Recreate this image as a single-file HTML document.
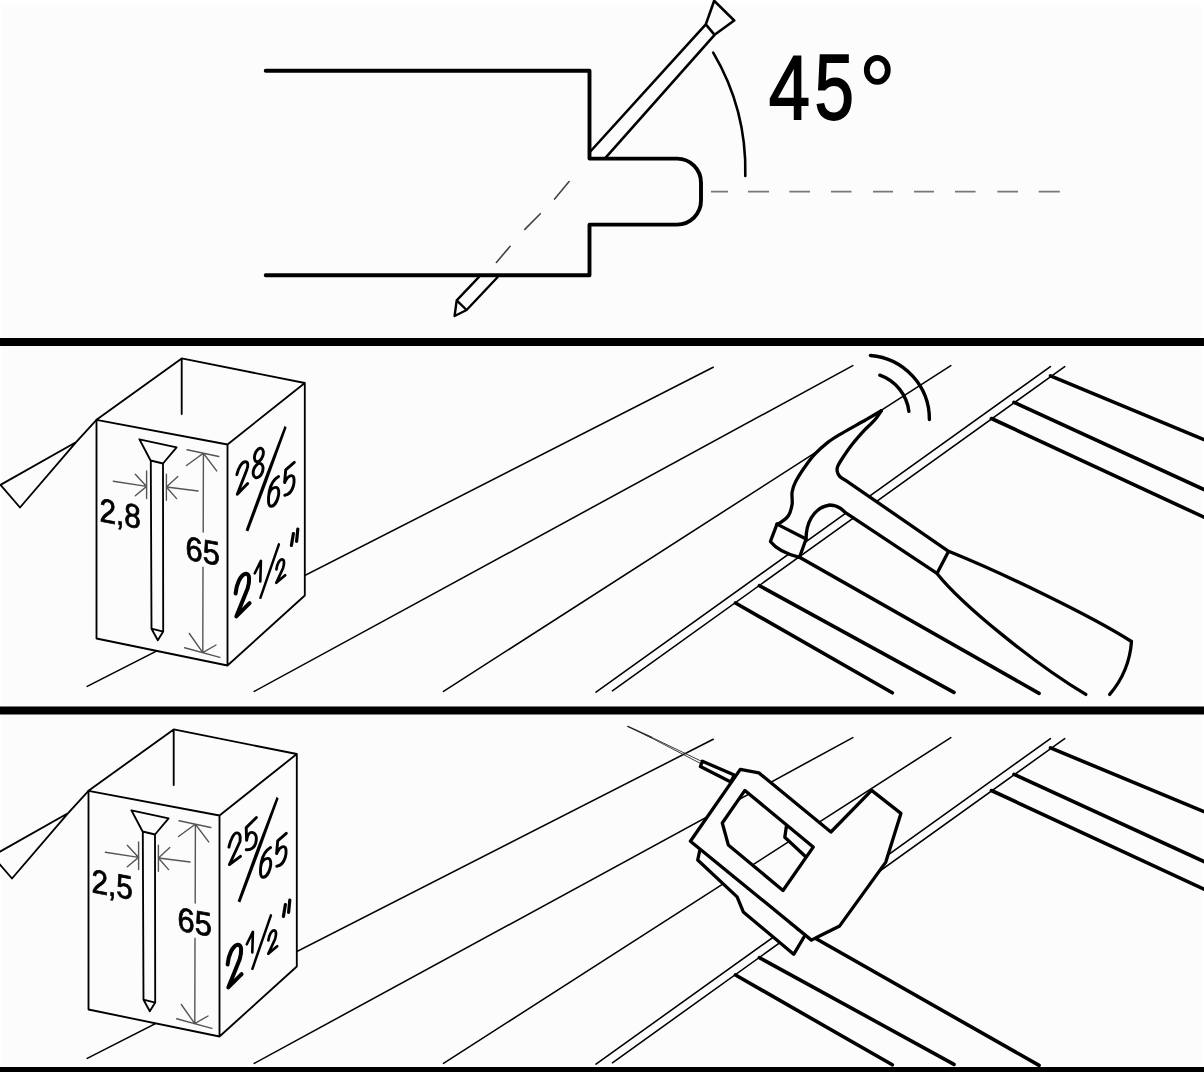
<!DOCTYPE html>
<html><head><meta charset="utf-8"><title>Nailing instructions</title>
<style>
html,body{margin:0;padding:0;background:#fcfcfc;}
body{width:1204px;height:1072px;overflow:hidden;}
svg{display:block;filter:grayscale(1);font-family:"Liberation Sans",sans-serif;}
.k{fill:none;stroke:#000;stroke-linecap:round;stroke-linejoin:round;}
.t1{stroke-width:1.55;}
.t2{stroke-width:1.85;}
.t3{stroke-width:3.3;}
.t4{stroke-width:3.6;}
.g{fill:none;stroke:#555;stroke-width:1.4;stroke-linecap:round;}
.w{fill:#fcfcfc;stroke:none;}
text{fill:#000;stroke:#000;stroke-width:0.8;}
</style></head>
<body>
<svg width="1204" height="1072" viewBox="0 0 1204 1072">
<defs>
  <!-- perspective board lines (middle panel coordinates) -->
  <g id="boards">
    <path class="k t1" d="M87.2,686.4 L713.2,367.3 M254.2,691.4 L852.8,365.6 M443.5,691.4 L950.8,365.6 M596,692.1 L1050.4,366.6 M612.4,690.8 L1064.7,366.6"/>
    <path class="k t4" d="M1050.5,375.9 L1204,439.6 M1014,402.3 L1204,489.6 M991.4,418.5 L1204,517.2 M735.5,603 L892.3,692.8 M759.4,585.7 L954,692.3 M799.5,557.3 L1039.1,693.4"/>
  </g>
  <!-- box with nail (middle panel coordinates) -->
  <g id="box">
    <path class="k t2" d="M0.5,484.9 L75.9,442.3 L20,507.5 Z M75.9,442.3 L96.5,419.8"/>
    <path class="w" d="M96.5,419.8 L181.7,358.4 L304.8,383 L304.8,595.5 L227.5,665.5 L96.5,638.5 Z"/>
    <path class="k t2" d="M96.5,419.8 L227.5,444.5 L227.5,665.5 L96.5,638.5 Z M227.5,444.5 L304.8,383 L304.8,595.5 L227.5,665.5 M96.5,419.8 L181.7,358.4 L304.8,383 M181.7,358.4 L181.7,414"/>
    <!-- nail -->
    <path class="k t2" d="M139.4,439.3 L176.6,447.4 L163,463.5 L150.6,460.5 Z M150.8,460.5 L151.5,628.7 L157.8,640.2 L163.2,631.6 L163,463.5 M151.5,628.7 L163.2,631.6"/>
    <!-- width dimension -->
    <path class="g" d="M146.6,470.9 V498.6 M166.4,474.2 V500.3 M113.3,481.2 L146.6,486.4 M135.3,474.2 L146.6,486.4 L135.3,495.7 M198.1,491 L166.4,487 M177.8,476.5 L166.4,487 L176.6,498.6"/>
    <!-- height dimension -->
    <path class="g" d="M187.1,449.8 L218.8,456.5 M203.4,453.3 L203.2,532 M203,567.2 L202.8,652.6 M186.5,465.5 L203.4,453.3 L216.7,470.9 M184.6,647.8 L219.9,657.4 M189.3,633.5 L202.8,652.6 L216,645"/>
    <text font-size="33.5" transform="matrix(0.92 0.172 0 1 185.6 559.2)">65</text>
    <!-- right face text -->
    <g class="k" stroke-width="2.9">
      <path d="M268.6,496.5 C268.8,491 272.5,487.2 275.8,487.4 C279.2,487.6 279.3,493 278,497.5 C276.5,503 273.5,506.5 270.8,506.3 C268,506 268,499 269.3,491.5 C270.5,485 273.5,479.5 278.6,476.6"/>
      <path d="M294.3,462.3 L285.7,469.8 L284.6,482.6 C286.5,478.5 289.2,475.5 291.6,475.6 C294.6,475.8 294.6,481.5 293.2,486.5 C291.6,491.8 288.3,494.8 284.8,495.3"/>
    </g>
    <path d="M284.6,425.8 L286.6,427.4 L267.8,479.5 L248.3,531.5 L245.6,530.2 L264.5,478.5 Z" fill="#000"/>
    <g class="k">
      <path stroke-width="4" d="M235.6,593.5 C236.2,585 240.5,574.5 245.8,573.8 C250,573.4 249.8,581 247.6,588.6 L236.3,616.4 L249.6,603.1"/>
      <path stroke-width="2.6" d="M254.8,573.3 L260.9,560.8 L260.3,581.4"/>
      <path stroke-width="2.5" d="M278.9,544.4 L260.4,597.8"/>
      <path stroke-width="2.7" d="M276.4,569.4 C277,564 279.5,559.4 282.2,559.3 C284.6,559.2 284.3,564.5 283,568.2 L276.3,582.8 L285.2,575.3"/>
      <path stroke-width="3.2" d="M293.4,533.6 L291.4,545.4 M297.8,529.2 L296.6,541.4"/>
    </g>
  </g>
</defs>

<rect x="0" y="0" width="1204" height="5" fill="#fff"/>
<rect x="1201.5" y="0" width="3" height="1072" fill="#fff"/>
<rect x="0" y="0" width="2" height="1072" fill="#fff"/>
<!-- ================= TOP PANEL ================= -->
<path class="k" stroke-width="3.9" d="M265.7,70.7 H589.5 V158.6 H677 A24,24 0 0 1 701,182.6 V200.6 A24,24 0 0 1 677,224.6 H589.5 V275.2 H265.7"/>
<!-- nail upper -->
<path class="k" stroke-width="2.6" d="M589.9,152 L705.8,24.4 M604.8,158.6 L714.6,34.8 M705.8,24.4 L714.2,0.8 L734.2,20.5 L714.6,34.8 Z"/>
<!-- dashed centre line -->
<path fill="none" stroke="#444" stroke-width="1.6" stroke-linecap="round" d="M569.1,181.6 L554.6,199.1 M540.3,213.7 L524.8,229.4 M510.1,246.3 L496.4,262.4"/>
<!-- nail tip -->
<path class="k" stroke-width="2.4" d="M478.8,277.2 L456.7,300.3 L454.6,316 L466.6,310 L497.5,277.2 M456.7,300.3 L466.6,310"/>
<!-- 45 deg arc -->
<path class="k" stroke-width="2.6" d="M713.2,52.7 A231,231 0 0 1 745.3,176"/>
<!-- horizontal dashed line -->
<path fill="none" stroke="#777" stroke-width="1.8" d="M711,191.6 H728 M748,191.6 H769 M789.3,191.6 H810 M831,191.6 H851.5 M873,191.6 H893 M914,191.6 H934 M955,191.6 H975.6 M997.3,191.6 H1018 M1038.7,191.6 H1059.8"/>
<!-- 45 text -->
<text font-size="92.7" style="stroke-width:1.8" transform="matrix(0.80 0 0 0.99 768.8 119.2)">4</text>
<text font-size="92.8" style="stroke-width:1.8" transform="matrix(0.765 0 0 0.99 814.6 119.2)">5</text>
<ellipse cx="877.3" cy="69.9" rx="10.5" ry="12" fill="none" stroke="#000" stroke-width="5.8"/>

<!-- separators -->
<rect x="0" y="338" width="1204" height="8" fill="#000"/>
<rect x="0" y="706.5" width="1204" height="8" fill="#000"/>
<rect x="0" y="1067" width="1204" height="5" fill="#000"/>

<!-- ================= MIDDLE PANEL ================= -->
<use href="#boards"/>
<use href="#box"/>
<text font-size="33.4" transform="matrix(0.89 0.1664 0 1 99.4 521.2)">2,8</text>
<g class="k" stroke-width="2.9">
  <path d="M236.8,474.7 C238.5,467.5 242,461.8 245.4,461.8 C248.5,461.8 248.2,466.5 246.7,470 L237.3,494.3 L247.7,483.6"/>
  <ellipse cx="258.9" cy="455" rx="4" ry="7.1" transform="rotate(20 258.9 455)"/>
  <ellipse cx="258.1" cy="470.6" rx="4.5" ry="7.5" transform="rotate(20 258.1 470.6)"/>
</g>

<!-- hammer -->
<g id="hammer">
  <path class="w" d="M881.3,410.8 C878.7,412.3 872.1,416.2 865.5,420.0 C858.9,423.8 848.2,429.5 841.9,433.3 C835.6,437.1 832.1,439.0 827.5,442.6 C822.9,446.2 818.0,450.6 814.1,454.9 C810.2,459.2 807.0,463.9 803.9,468.3 C800.8,472.8 797.7,477.7 795.7,481.6 C793.7,485.5 792.7,488.1 792.1,491.9 C791.5,495.7 792.7,500.3 792.1,504.2 C791.5,508.1 790.5,512.4 788.5,515.5 C786.5,518.6 782.2,521.3 780.3,522.7 C778.4,524.1 777.5,523.9 777.0,524.1 L806.1,539 C806,525 812,508 829.8,505 C836,505 841,508 845.1,512.3 L937,573.4 C962,605 1035,664 1085.8,694.4 L1109.7,694.4 C1122,680 1130,662 1131.5,641.5 C1090,615 1000,572 948.6,551.3 L846,480.6 C845.0,479.9 841.3,478.1 839.8,476.5 C838.3,474.9 837.5,473.0 837.2,471.3 C836.9,469.6 837.0,468.2 837.8,466.2 C838.6,464.1 839.7,462.4 841.9,459.0 C844.1,455.6 847.7,450.1 851.1,445.7 C854.5,441.2 858.5,436.6 862.4,432.3 C866.3,428.0 871.6,423.6 874.7,420.0 C877.9,416.4 880.2,412.3 881.3,410.8 Z"/>
  <path class="k t3" d="M881.3,410.8 C878.7,412.3 872.1,416.2 865.5,420.0 C858.9,423.8 848.2,429.5 841.9,433.3 C835.6,437.1 832.1,439.0 827.5,442.6 C822.9,446.2 818.0,450.6 814.1,454.9 C810.2,459.2 807.0,463.9 803.9,468.3 C800.8,472.8 797.7,477.7 795.7,481.6 C793.7,485.5 792.7,488.1 792.1,491.9 C791.5,495.7 792.7,500.3 792.1,504.2 C791.5,508.1 790.5,512.4 788.5,515.5 C786.5,518.6 782.2,521.3 780.3,522.7 C778.4,524.1 777.5,523.9 777.0,524.1"/>
  <path class="k t3" d="M806.1,539 C806,525 812,508 829.8,505 C836,505 841,508 845.1,512.3 L937,573.4 C962,605 1035,664 1085.8,694.4"/>
  <path class="k t3" d="M1109.7,694.4 C1122,680 1130,662 1131.5,641.5 C1090,615 1000,572 948.6,551.3 L846,480.6 C845.0,479.9 841.3,478.1 839.8,476.5 C838.3,474.9 837.5,473.0 837.2,471.3 C836.9,469.6 837.0,468.2 837.8,466.2 C838.6,464.1 839.7,462.4 841.9,459.0 C844.1,455.6 847.7,450.1 851.1,445.7 C854.5,441.2 858.5,436.6 862.4,432.3 C866.3,428.0 871.6,423.6 874.7,420.0 C877.9,416.4 880.2,412.3 881.3,410.8 M948.6,551.3 L937,573.4"/>
  <path d="M777,524.1 L806.1,539 L799.5,557.3 C790,555 777,550 770.4,541.5 Z" style="fill:#fcfcfc" class="k t3"/>
  <path class="k" stroke-width="3.4" d="M870.4,355.5 A64,64 0 0 1 929.4,419.6 M879.8,375.2 A44,44 0 0 1 908.9,411.4"/>
</g>

<!-- ================= BOTTOM PANEL ================= -->
<use href="#boards" transform="translate(0,372)"/>
<use href="#box" transform="translate(-8,371)"/>
<g transform="translate(-8,371)">
<text font-size="33.4" transform="matrix(0.89 0.1664 0 1 99.4 521.2)">2,5</text>
<g class="k" stroke-width="2.9">
  <path d="M236.9,476.1 C238.5,468.5 242,461.9 244.8,461.9 C248.5,461.9 248.5,466.5 248,470.5 L237.4,493.6 L248.5,485.3"/>
  <path d="M264.4,446.5 L254.2,456.6 L254.6,469.4 C255.5,464.5 257,461.5 259.2,461.4 C263.5,461.2 265.5,465.5 263.6,472.5 C262.2,477 258,479 254.2,478.8"/>
</g>
</g>

<!-- nail gun -->
<g id="gun">
  <path fill="none" stroke="#222" stroke-width="1.4" stroke-linecap="round" d="M627.8,726.4 L651.6,737.5"/>
  <path fill="none" stroke="#333" stroke-width="0.95" d="M645,734.2 L701.8,761.4 M645,734.6 L701.2,763.8"/>
  <path class="k t3" style="fill:#fcfcfc" d="M702.4,761.2 L734.3,775.1 L730.8,782 L700.4,766.5 Z"/>
  <path fill="#fcfcfc" d="M699.7,850.9 L697.7,860 L737.1,896.9 L743.3,911.9 L793.7,954.3 L804.3,936.5 Z"/>
  <path class="k t3" d="M699.7,850.9 L697.7,860 L737.1,896.9 L743.3,911.9 L793.7,954.3 L804.3,936.5"/>
  <path fill="#fcfcfc" fill-rule="evenodd" stroke="none" d="M740.3,769.4 L758.9,772.9 L830.9,832 L871.6,790.4 L900.9,813.4 L885.8,862.1 L839.7,925.9 L818.5,936.5 L811.4,940.1 L690.4,841.2 Z M744.9,790.4 L786.6,824.9 L784.8,837.3 L806,857 L783,890.5 L728.3,844.9 L722.3,823 Z"/>
  <path class="k t3" d="M740.3,769.4 L758.9,772.9 L830.9,832 L871.6,790.4 L900.9,813.4 L885.8,862.1 L839.7,925.9 L818.5,936.5 L811.4,940.1 L690.4,841.2 Z M744.9,790.4 L813.2,847.1 L783,890.5 L728.3,844.9 L722.3,823 Z M786.6,824.9 L784.8,837.3 L806,857"/>
</g>

</svg>
</body></html>
